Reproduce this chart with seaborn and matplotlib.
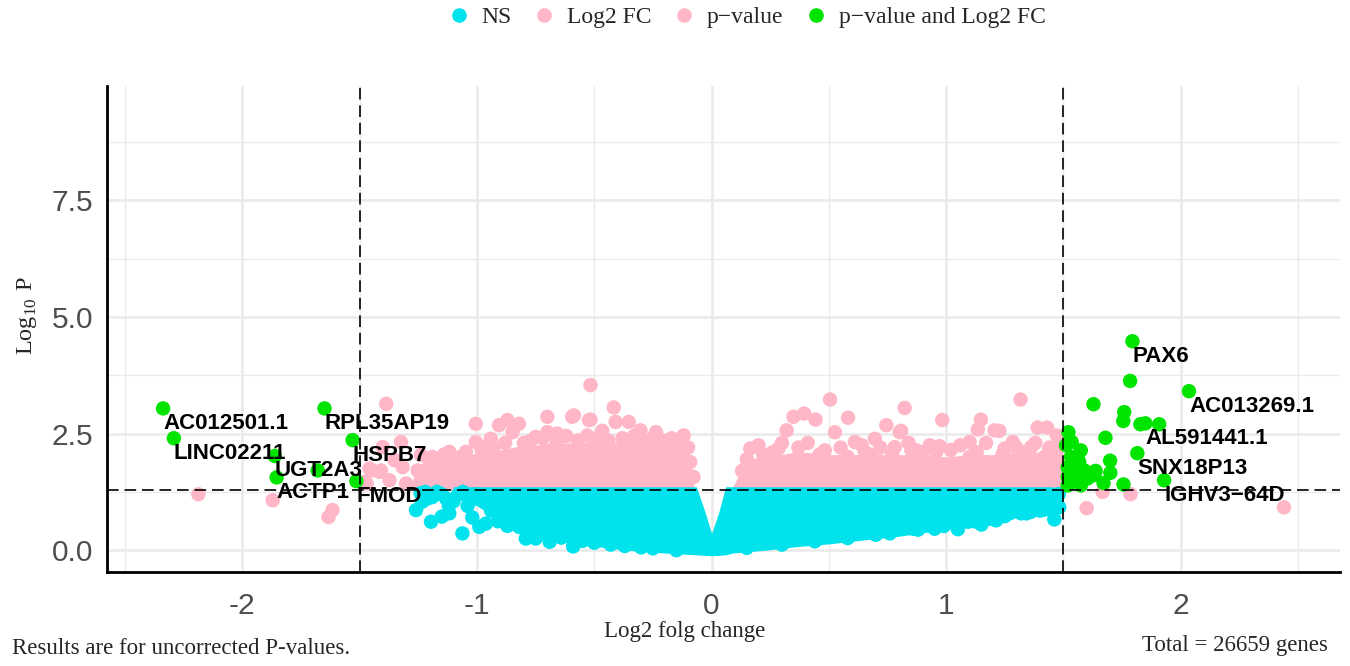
import matplotlib
matplotlib.use("Agg")
import matplotlib.pyplot as plt
import matplotlib.transforms as mtransforms
from matplotlib.lines import Line2D
from matplotlib.ticker import MultipleLocator
import pandas as pd
import seaborn as sns

FC_CUTOFF = 1.5
P_CUTOFF = 1.3

# Labelled genes (pass both cutoffs)
gene_names = ["AC012501.1", "LINC02211", "RPL35AP19", "HSPB7", "UGT2A3", "ACTP1",
              "FMOD", "PAX6", "AC013269.1", "AL591441.1", "SNX18P13", "IGHV3\u221264D"]
gene_fc = [-2.338, -2.292, -1.65, -1.53, -1.862, -1.854, -1.514, 1.794, 2.035, 1.849, 1.815, 1.929]
gene_logp = [3.04, 2.40, 3.04, 2.36, 2.02, 1.56, 1.48, 4.48, 3.41, 2.72, 2.08, 1.50]

# Other genes passing both cutoffs
both_fc = [-1.679, 1.784, 1.628, 1.759, 1.755, 1.828, 1.908, 1.679, 1.699, 1.637, 1.70,
           1.671, 1.756, 1.521, 1.535, 1.574, 1.532, 1.567, 1.518, 1.546, 1.518, 1.603,
           1.546, 1.518, 1.574, 1.511, 1.56, 1.589, 1.631]
both_logp = [1.71, 3.63, 3.13, 2.96, 2.77, 2.70, 2.70, 2.41, 1.92, 1.70, 1.66,
             1.44, 1.41, 2.53, 2.32, 2.14, 2.0, 1.89, 1.78, 1.68, 1.57, 1.54,
             1.50, 1.39, 1.39, 2.25, 2.0, 1.71, 1.61]

# Genes passing only the fold-change cutoff
fc_only_fc = [-2.188, -1.871, -1.616, -1.633, 1.667, 1.786, 1.599, 2.44]
fc_only_logp = [1.20, 1.07, 0.86, 0.71, 1.25, 1.20, 0.90, 0.92]

# Genes passing only the p-value cutoff (outer and top-edge genes)
p_only_fc = [-1.387, -1.48, -1.47, -1.402, -1.324, -1.451, -1.409, -1.458, -1.416, -1.352,
             -1.373, -1.302, -1.317, -1.239, -1.253, -1.217, -1.203, -1.161, -1.118, -1.09,
             -1.047, -1.005, -1.005, -0.962, -0.941, -0.906, -0.870, -0.849, -0.821, -0.75,
             -0.70, -0.70, -0.658, -0.594, -0.587, -0.53, -0.523, -0.516, -0.516, -0.466,
             -0.417, -0.409, -0.353, -0.303, -0.237, -0.119, -0.091, -0.077,
             -1.19, -1.14, -1.07, -0.98, -0.93, -0.88, -0.80, -0.77, -0.72, -0.66,
             -0.62, -0.57, -0.49, -0.44, -0.38, -0.33, -0.28, -0.25, -0.21, -0.17,
             -0.14, -0.10,
             0.165, 0.20, 0.285, 0.32, 0.349, 0.395, 0.443, 0.483, 0.505, 0.526,
             0.582, 0.611, 0.653, 0.696, 0.745, 0.781, 0.802, 0.808, 0.823, 0.852,
             0.873, 0.958, 0.972, 0.983, 1.10, 1.10, 1.135, 1.148, 1.206, 1.227,
             1.249, 1.284, 1.317, 1.362, 1.39, 1.404, 1.419, 1.43, 1.433, 1.461,
             1.468, 1.472,
             0.13, 0.15, 0.22, 0.26, 0.30, 0.37, 0.41, 0.46, 0.55, 0.58,
             0.64, 0.68, 0.72, 0.77, 0.84, 0.90, 0.93, 1.02, 1.06, 1.13,
             1.17, 1.24, 1.30, 1.34, 1.38, 1.44, 1.48]
p_only_logp = [3.14, 1.46, 1.43, 2.21, 2.32, 1.71, 1.71, 1.75, 1.68, 1.93,
               1.50, 1.43, 1.78, 2.04, 1.71, 1.57, 1.82, 1.86, 2.11, 1.89,
               2.11, 2.71, 2.32, 2.21, 2.39, 2.68, 2.79, 2.53, 2.71, 2.43,
               2.86, 2.53, 2.50, 2.86, 2.89, 2.46, 2.79, 3.54, 2.80, 2.56,
               3.06, 2.75, 2.75, 2.57, 2.53, 2.46, 1.89, 1.57,
               2.00, 2.05, 2.00, 2.15, 2.20, 2.30, 2.30, 2.35, 2.40, 2.35,
               2.45, 2.35, 2.40, 2.35, 2.40, 2.45, 2.35, 2.40, 2.35, 2.40,
               2.30, 2.20,
               2.18, 2.25, 2.18, 2.57, 2.86, 2.93, 2.80, 2.14, 3.23, 2.53,
               2.84, 2.32, 2.11, 2.39, 2.68, 2.21, 2.53, 2.56, 3.05, 2.14,
               2.14, 2.11, 2.23, 2.79, 2.32, 2.0, 2.59, 2.80, 2.57, 2.56,
               2.18, 2.32, 3.23, 2.21, 2.63, 1.54, 2.0, 2.63, 1.71, 1.50,
               2.07, 2.46,
               1.70, 1.95, 2.05, 2.10, 2.30, 2.20, 2.30, 2.05, 2.20, 2.00,
               2.25, 2.05, 2.20, 2.05, 2.30, 2.10, 2.25, 2.15, 2.25, 2.10,
               2.30, 2.05, 2.20, 2.10, 2.30, 2.20, 2.30]

# Non-significant genes around the edges of the main cloud
ns_fc = [-1.26, -1.233, -1.24, -1.21, -1.196, -1.19, -1.17, -1.132, -1.118, -1.08,
         -1.062, -0.99, -0.962, -0.792, -0.75, -0.69, -0.59,
         -1.22, -1.15, -1.10, -1.04, -1.02, -1.12, -1.15, -1.06, -1.00,
         -0.94, -0.91, -0.87, -0.82, -0.71, -0.64, -0.55, -0.50, -0.43, -0.37,
         -0.30, -0.25, -0.15,
         0.15, 0.30, 0.44, 0.58, 0.70, 0.76, 0.88, 0.99, 1.12, 1.18,
         1.25, 1.32, 1.36, 1.42,
         0.859, 0.951, 1.05, 1.093, 1.15, 1.213, 1.27, 1.342, 1.40, 1.44,
         1.461, 1.46, 1.482, 1.48]
ns_logp = [0.86, 1.04, 1.22, 1.11, 0.61, 1.14, 1.25, 1.11, 0.79, 1.20,
           0.36, 0.50, 0.57, 0.25, 0.25, 0.18, 0.08,
           1.25, 1.20, 1.05, 0.95, 0.70, 0.95, 0.72, 1.25, 1.20,
           0.85, 0.62, 0.52, 0.50, 0.36, 0.27, 0.20, 0.16, 0.12, 0.09,
           0.06, 0.04, 0.00,
           0.05, 0.12, 0.19, 0.26, 0.33, 0.36, 0.44, 0.52, 0.62, 0.67,
           0.73, 0.79, 0.82, 0.87,
           0.46, 0.46, 0.45, 0.61, 0.55, 0.64, 0.79, 0.79, 0.85, 0.96,
           0.66, 1.10, 0.92, 1.20]

# Outline of the dense non-significant cloud
ns_band_fc = [-1.10, -1.06, -1.0, -0.95, -0.92, -0.85, -0.76, -0.69, -0.59, -0.48,
              -0.34, -0.2, -0.065, -0.03, 0.0, 0.03, 0.06, 0.09, 0.23, 0.37,
              0.51, 0.65, 0.80, 0.94, 1.05, 1.15, 1.22, 1.28, 1.38, 1.46, 1.495]
ns_band_low = [1.18, 1.05, 0.95, 0.80, 0.57, 0.46, 0.36, 0.25, 0.14, 0.07,
               -0.01, -0.06, -0.10, -0.11, -0.12, -0.11, -0.10, -0.06, 0.0, 0.08,
               0.14, 0.22, 0.30, 0.40, 0.48, 0.56, 0.62, 0.68, 0.76, 0.82, 0.95]
ns_band_high = [1.36, 1.36, 1.36, 1.36, 1.36, 1.36, 1.36, 1.36, 1.36, 1.36,
                1.36, 1.36, 1.36, 0.85, 0.36, 0.80, 1.36, 1.36, 1.36, 1.36,
                1.36, 1.36, 1.36, 1.36, 1.36, 1.36, 1.36, 1.36, 1.36, 1.36, 1.36]

# Outline of the dense p-value-only bands
p_band_left_fc = [-1.28, -1.25, -1.2, -1.15, -1.1, -1.05, -1.0, -0.95, -0.9, -0.85,
                  -0.8, -0.75, -0.7, -0.65, -0.6, -0.55, -0.5, -0.45, -0.4, -0.35,
                  -0.3, -0.25, -0.2, -0.15, -0.11, -0.09, -0.075]
p_band_left_high = [1.45, 1.8, 1.9, 1.95, 2.0, 2.0, 2.1, 2.15, 2.15, 2.2,
                    2.25, 2.25, 2.3, 2.3, 2.3, 2.3, 2.35, 2.35, 2.3, 2.35,
                    2.35, 2.3, 2.3, 2.3, 2.25, 1.95, 1.4]
p_band_right_fc = [0.085, 0.11, 0.14, 0.17, 0.2, 0.25, 0.3, 0.35, 0.4, 0.5,
                   0.6, 0.7, 0.8, 0.9, 1.0, 1.1, 1.2, 1.3, 1.4, 1.47, 1.495]
p_band_right_high = [1.3, 1.55, 1.85, 1.95, 2.0, 2.05, 2.05, 2.1, 2.1, 2.05,
                     2.05, 2.05, 2.05, 2.05, 2.0, 2.05, 2.05, 2.1, 2.1, 2.1, 2.1]

categories = ["NS", "Log2 FC", "p\u2212value", "p\u2212value and Log2 FC"]
colours = {"NS": "#00E2EC", "Log2 FC": "#FFB6C6",
           "p\u2212value": "#FFB6C6", "p\u2212value and Log2 FC": "#00E400"}

sns.set_theme(style="white")
plt.rcParams["font.family"] = ["Liberation Serif", "DejaVu Serif"]
plt.rcParams["mathtext.fontset"] = "custom"
plt.rcParams["mathtext.rm"] = "Liberation Serif"

frames = [
    pd.DataFrame({"fc": ns_fc, "logp": ns_logp, "group": categories[0]}),
    pd.DataFrame({"fc": fc_only_fc, "logp": fc_only_logp, "group": categories[1]}),
    pd.DataFrame({"fc": p_only_fc, "logp": p_only_logp, "group": categories[2]}),
    pd.DataFrame({"fc": both_fc, "logp": both_logp, "group": categories[3]}),
    pd.DataFrame({"fc": gene_fc, "logp": gene_logp, "group": categories[3]}),
]
genes = pd.concat(frames, ignore_index=True)

fig = plt.figure(figsize=(13.5, 6.66), dpi=100)
ax = fig.add_axes([0.0793, 0.1407, 0.9133, 0.7302])

# dense bands of overlapping points
ax.fill_between(p_band_left_fc, P_CUTOFF, p_band_left_high, color=colours["p\u2212value"],
                linewidth=0, zorder=2)
ax.fill_between(p_band_right_fc, P_CUTOFF, p_band_right_high, color=colours["p\u2212value"],
                linewidth=0, zorder=2)
ax.fill_between(ns_band_fc, ns_band_low, ns_band_high, color=colours["NS"],
                linewidth=0, zorder=2)

sns.scatterplot(data=genes, x="fc", y="logp", hue="group", hue_order=categories,
                palette=colours, s=108, linewidth=0, alpha=1, legend=False,
                ax=ax, zorder=3)

# cutoff lines
for xv in (-FC_CUTOFF, FC_CUTOFF):
    ax.axvline(xv, color="black", lw=1.2, dashes=(7, 3.5), zorder=4)
ax.axhline(P_CUTOFF, color="black", lw=1.2, dashes=(7, 3.5), zorder=4)

# gene labels just below each point
lab_tf = mtransforms.offset_copy(ax.transData, fig=fig, x=0, y=-15, units="dots")
for name, xv, yv in zip(gene_names, gene_fc, gene_logp):
    ax.text(xv, yv, name, transform=lab_tf, ha="left", va="center",
            fontsize=16, fontweight="bold", family="Liberation Sans",
            color="black", zorder=5)

# limits as in ggplot (5% expansion)
all_fc = list(genes["fc"])
xmin, xmax = min(all_fc), max(all_fc)
xr = xmax - xmin
ax.set_xlim(xmin - 0.05 * xr, xmax + 0.05 * xr)
ytop = max(genes["logp"]) + 5
ax.set_ylim(-0.05 * ytop, ytop * 1.05)

ax.xaxis.set_minor_locator(MultipleLocator(0.5))
ax.yaxis.set_minor_locator(MultipleLocator(1.25))
ax.set_yticks([0, 2.5, 5.0, 7.5])
ax.set_yticklabels(["0.0", "2.5", "5.0", "7.5"])
ax.set_xticks([-2, -1, 0, 1, 2])
ax.set_xticklabels(["-2", "-1", "0", "1", "2"])
ax.grid(which="major", color="#EBEBEB", lw=2.0, zorder=0)
ax.grid(which="minor", color="#EBEBEB", lw=1.0, zorder=0)
ax.set_axisbelow(True)

for side in ("top", "right"):
    ax.spines[side].set_visible(False)
for side in ("left", "bottom"):
    ax.spines[side].set_color("black")
    ax.spines[side].set_linewidth(2.0)

ax.tick_params(axis="both", which="major", length=6, width=2, color="black",
               labelcolor="#4D4D4D", labelsize=21.5)
ax.tick_params(axis="y", which="major", pad=4)
ax.tick_params(axis="x", which="major", pad=8)
ax.tick_params(which="minor", length=0)
for lab in ax.get_xticklabels() + ax.get_yticklabels():
    lab.set_family("Liberation Sans")
ax.set_xlabel("")
ax.set_ylabel("")

fig.text(685 / 1350, 1 - 632 / 666, "Log2 folg change", ha="center", va="center",
         fontsize=16.5)
fig.text(27 / 1350, 1 - 315 / 666, r"$\mathrm{Log}_{10}\ \mathrm{P}$", rotation=90,
         ha="center", va="center", fontsize=17.5)
fig.text(12 / 1350, 1 - 648 / 666, "Results are for uncorrected P-values.",
         ha="left", va="center", fontsize=16.5)
fig.text(1328 / 1350, 1 - 645 / 666, "Total = 26659 genes",
         ha="right", va="center", fontsize=16.5)

handles = [Line2D([], [], marker="o", linestyle="", markersize=10.5,
                  markerfacecolor=colours[c], markeredgewidth=0) for c in categories]
fig.legend(handles, categories, loc="center", bbox_to_anchor=(745 / 1350, 1 - 17 / 666),
           ncol=4, frameon=False, fontsize=17, handletextpad=0.35,
           columnspacing=0.8, handlelength=1.2)

fig.savefig("out.png", dpi=100)
